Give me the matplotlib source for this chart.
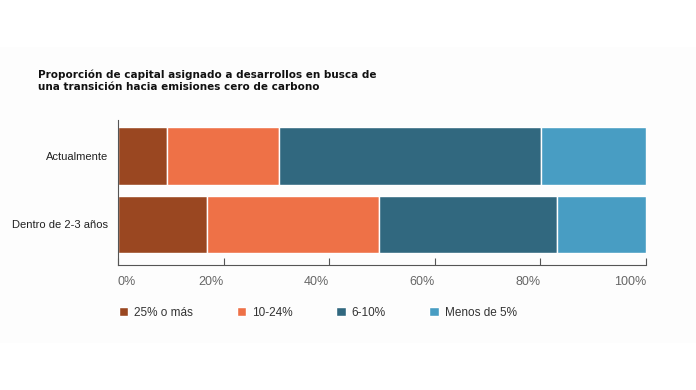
#
# Stacked horizontal bar: capital allocated to net-zero transition
#
import matplotlib
matplotlib.use('Agg')
from matplotlib import pyplot as plt
from matplotlib.patches import Rectangle
import numpy as np
#
# Data
categories = ['Actualmente', 'Dentro de 2-3 años']
series_names = ['25% o más', '10-24%', '6-10%', 'Menos de 5%']
values = {
    '25% o más': [9.3, 16.8],
    '10-24%': [21.1, 32.7],
    '6-10%': [49.7, 33.6],
    'Menos de 5%': [19.9, 16.9],
}
tick_values = [0, 20, 40, 60, 80, 100]
tick_labels = ['0%', '20%', '40%', '60%', '80%', '100%']
title = ('Proporción de capital asignado a desarrollos en busca de\n'
         'una transición hacia emisiones cero de carbono')
#
colors = ['#9a4721', '#ee7147', '#31687f', '#489dc3']
plt.rcParams['font.family'] = ['Liberation Sans', 'DejaVu Sans']
#
fig = plt.figure(figsize = (6.96, 3.9), dpi = 100)
fig.patch.set_facecolor('white')
# faint off-white band behind the chart
fig.patches.append(Rectangle((0, 47 / 390), 1, (343 - 47) / 390,
                             transform = fig.transFigure,
                             facecolor = '#fdfdfd', edgecolor = 'none',
                             zorder = -10))
#
ax = fig.add_axes([118 / 696, 1 - 265 / 390, (646 - 118) / 696, 145 / 390])
ax.set_facecolor('none')
#
ypos = np.arange(len(categories))
left = np.zeros(len(categories))
handles = []
for name, col in zip(series_names, colors):
    vals = np.array(values[name])
    h = ax.barh(ypos, vals, left = left, height = 0.84, color = col,
                edgecolor = 'white', linewidth = 1.0, label = name)
    handles.append(h)
    left += vals
#
ax.set_xlim(0, 100)
ax.set_ylim(1.6, -0.53)
ax.set_yticks(ypos)
ax.set_yticklabels(categories, fontsize = 8, color = '#222222')
ax.tick_params(axis = 'y', length = 0, pad = 7)
#
ax.set_xticks(tick_values)
ax.set_xticklabels(tick_labels, fontsize = 9, color = '#666666')
ax.tick_params(axis = 'x', direction = 'in', length = 5, width = 0.8,
               color = '#555555', pad = 8)
for i, lab in enumerate(ax.get_xticklabels()):
    lab.set_horizontalalignment('left' if i == 0 else 'right')
#
for s in ['top', 'right']:
    ax.spines[s].set_visible(False)
ax.spines['left'].set_color('#555555')
ax.spines['bottom'].set_color('#555555')
ax.spines['left'].set_linewidth(0.8)
ax.spines['bottom'].set_linewidth(0.8)
#
fig.text(38 / 696, 1 - 70 / 390, title, fontsize = 7.5, fontweight = 'bold',
         family = 'DejaVu Sans', color = '#111111', va = 'top', ha = 'left',
         linespacing = 1.25)
#
leg = fig.legend(handles = handles, labels = series_names, ncol = 4,
                 loc = 'center left', bbox_to_anchor = (108 / 696, 1 - 313 / 390),
                 frameon = False, fontsize = 8.5, handlelength = 0.8,
                 handleheight = 0.8, handletextpad = 0.5, columnspacing = 3.7)
for t in leg.get_texts():
    t.set_color('#333333')
#
fig.savefig('out.png', dpi = 100)
